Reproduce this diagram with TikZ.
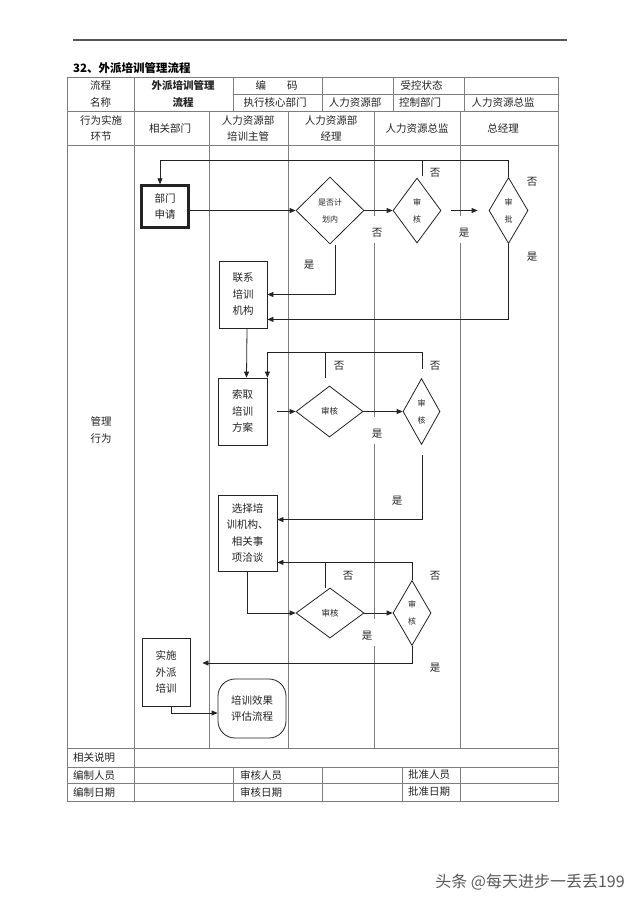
\documentclass[tikz,border=0pt]{standalone}
\usepackage{fontspec}
\setmainfont{Noto Sans CJK SC}
\usetikzlibrary{arrows.meta,positioning,calc,shapes.geometric}
\definecolor{tablecolor}{RGB}{125,125,125}
\definecolor{inkcolor}{RGB}{35,35,35}
\definecolor{markcolor}{RGB}{90,90,90}

\begin{document}
\begin{tikzpicture}[x=1pt,y=-1pt,
    font=\fontsize{10.5}{16.5}\selectfont,
    grid/.style={tablecolor, line width=0.7pt},
    flow/.style={inkcolor, line width=0.8pt},
    arr/.style={flow, -{Triangle[length=6pt,width=5pt]}},
    cell/.style={inner sep=0pt, align=center, text=inkcolor},
    procbox/.style={draw=inkcolor, line width=0.8pt, inner sep=0pt, align=center,
        text=inkcolor, minimum width=48, minimum height=67},
    startbox/.style={procbox, line width=2.4pt, minimum width=47, minimum height=42},
    endbox/.style={procbox, rounded corners=17pt, minimum width=68, minimum height=59},
    check/.style={diamond, draw=inkcolor, line width=0.8pt, inner sep=0pt, align=center,
        text=inkcolor, font=\fontsize{8}{17}\selectfont},
    yesno/.style={inner sep=1pt, text=inkcolor},
    lanemark/.style={yesno, fill=white, inner xsep=5pt, text height=19pt, text depth=6pt}]

    \useasboundingbox (0,0) rectangle (640,905);
    \fill[white] (0,0) rectangle (640,905);

    % Page rule and title
    \draw[tablecolor!70!black, line width=1.2pt] (73,40) -- (567,40);
    \node[anchor=west, inner sep=0pt, font=\fontsize{11.5}{13}\selectfont\bfseries] (title) at (73,68) {32、外派培训管理流程};

    % Draw table grid
    \draw[grid] (67,77) rectangle (558,801);
    \draw[grid] (233,94) -- (558,94);
    \foreach \y in {111,145,748,767,783} {
        \draw[grid] (67,\y) -- (558,\y);
    }
    \foreach \x in {134,233,322,393,464} {
        \draw[grid] (\x,77) -- (\x,111);
    }
    \foreach \x in {134,209,288,374,460} {
        \draw[grid] (\x,111) -- (\x,748);
    }
    \draw[grid] (134,748) -- (134,767);
    \foreach \x in {134,233,322,402,460} {
        \draw[grid] (\x,767) -- (\x,801);
    }

    % Header cells
    \node[cell] (hname) at (100.5,94) {流程\\名称};
    \node[cell, font=\fontsize{10.5}{16.5}\selectfont\bfseries] (htitle) at (183,94) {外派培训管理\\流程};
    \node[cell] (hcode) at (276.5,85.5) {编\hspace{2em}码};
    \node[cell] (hstate) at (421.5,85.5) {受控状态};
    \node[cell] (hcore) at (275,102.5) {执行核心部门};
    \node[cell] (hdept) at (355,102.5) {人力资源部};
    \node[cell] (hctrl) at (420,102.5) {控制部门};
    \node[cell] (hdir) at (503,102.5) {人力资源总监};

    % Lane headers
    \node[cell] (lstep) at (101,128.5) {行为实施\\环节};
    \node[cell] (lrel) at (170,128.5) {相关部门};
    \node[cell] (lsup) at (248,128.5) {人力资源部\\培训主管};
    \node[cell] (lmgr) at (331,128.5) {人力资源部\\经理};
    \node[cell] (ldir) at (417,128.5) {人力资源总监};
    \node[cell] (lceo) at (503,128.5) {总经理};
    \node[cell] (lact) at (101,430) {管理\\行为};

    % Footer cells
    \node[cell, anchor=west] (fnote) at (73,758) {相关说明};
    \node[cell, anchor=west] (fmaker) at (73,775) {编制人员};
    \node[cell, anchor=west] (fchecker) at (240,775) {审核人员};
    \node[cell, anchor=west] (fsigner) at (408,775) {批准人员};
    \node[cell, anchor=west] (fmdate) at (73,792) {编制日期};
    \node[cell, anchor=west] (fcdate) at (240,792) {审核日期};
    \node[cell, anchor=west] (fsdate) at (408,792) {批准日期};

    % Flow steps
    \node[startbox] (apply) at (165,206.5) {部门\\申请};
    \node[check, minimum width=68, minimum height=67] (plan) at (330,210.5) {是否计\\划内};
    \node[check, minimum width=48, minimum height=65] (review1) at (417,210.5) {审\\核};
    \node[check, minimum width=39, minimum height=66] (approve) at (508.5,210.5) {审\\批};
    \node[procbox] (contact) at (243,294.5) {联系\\培训\\机构};
    \node[procbox, minimum width=49] (obtain) at (242.5,411.5) {索取\\培训\\方案};
    \node[check, minimum width=67, minimum height=51, font=\fontsize{8.5}{17}\selectfont] (review2) at (329.5,411.5) {审核};
    \node[check, minimum width=37, minimum height=66] (review3) at (421.5,411.5) {审\\核};
    \node[procbox, minimum width=59, minimum height=76] (choose) at (247.5,533) {选择培\\训机构、\\相关事\\项洽谈};
    \node[check, minimum width=68, minimum height=50, font=\fontsize{8.5}{17}\selectfont] (review4) at (330,613) {审核};
    \node[check, minimum width=38, minimum height=65] (review5) at (412,613) {审\\核};
    \node[procbox, minimum height=68] (impl) at (166,672) {实施\\外派\\培训};
    \node[endbox] (evalbox) at (252,708.5) {培训效果\\评估流程};

    % Connectors: application and approval
    \draw[arr] (apply.east |- plan.west) -- (plan.west);
    \draw[arr] (plan.east) -- (review1.west);
    \draw[arr] ($(review1.east)+(10,0)$) -- ($(approve.west)+(-11,0)$);
    \coordinate (loop1) at (160,160);
    \coordinate (r1top) at ($(review1.north)+(5,-2)$);
    \draw[flow] (r1top) -- (r1top |- loop1);
    \draw[arr] (approve.north) -- (approve.north |- loop1) -- (loop1) -- (apply.north -| loop1);
    \coordinate (p1) at ($(plan.south)+(5,0.5)$);
    \draw[arr] (p1) |- (contact.east);
    \draw[arr] (approve.south) |- ($(contact.south east)+(0,-9)$);
    \draw[arr] ($(contact.south)+(4,0)$) -- ($(obtain.north)+(4,0)$);

    % Connectors: training plan
    \draw[arr] ($(obtain.east)+(10,0)$) -- (review2.west);
    \draw[arr] (review2.east) -- (review3.west);
    \coordinate (loop2) at ($(obtain.north east)+(0,-25)$);
    \coordinate (r2top) at ($(review2.north)+(-4.5,-8)$);
    \draw[flow] (r2top) -- (r2top |- loop2);
    \coordinate (r3top) at ($(review3.north)+(0.5,-9)$);
    \draw[arr] (r3top) -- (r3top |- loop2) -- (loop2) -- (obtain.north east);
    \coordinate (r3bot) at ($(review3.south)+(0.5,10)$);
    \draw[arr] (r3bot) |- ($(choose.north east)+(0,25)$);

    % Connectors: negotiation and training
    \coordinate (loop3) at ($(choose.south east)+(0,-9)$);
    \coordinate (r4top) at ($(review4.north)+(-5,0)$);
    \draw[flow] (r4top) -- (r4top |- loop3);
    \draw[arr] (review5.north) -- (review5.north |- loop3) -- (loop3);
    \draw[arr] (choose.south) |- (review4.west);
    \draw[arr] (review4.east) -- (review5.west);
    \draw[arr] (review5.south) |- ($(impl.east)+(12,-9)$);
    \draw[arr] ($(impl.south)+(5,0)$) |- ($(evalbox.west)+(0,4.5)$);

    % Yes / no marks
    \node[yesno] (no1) at (435,173) {否};
    \node[yesno] (no2) at (532,182) {否};
    \node[lanemark] (no3) at (377,229.5) {否};
    \node[lanemark] (yes1) at (464,229.5) {是};
    \node[yesno] (yes2) at (532,257) {是};
    \node[yesno] (yes3) at (309,265) {是};
    \node[yesno] (no4) at (339,366) {否};
    \node[yesno] (no5) at (435,366) {否};
    \node[lanemark] (yes4) at (377,430.5) {是};
    \node[yesno] (yes5) at (397,501) {是};
    \node[yesno] (no6) at (348,576) {否};
    \node[yesno] (no7) at (435,576) {否};
    \node[lanemark] (yes6) at (367,632.5) {是};
    \node[yesno] (yes7) at (435,668) {是};

    % Watermark
    \node[text=markcolor, font=\fontsize{16}{18}\selectfont] (mark) at (530,882) {头条 @每天进步一丢丢199};
\end{tikzpicture}
\end{document}
